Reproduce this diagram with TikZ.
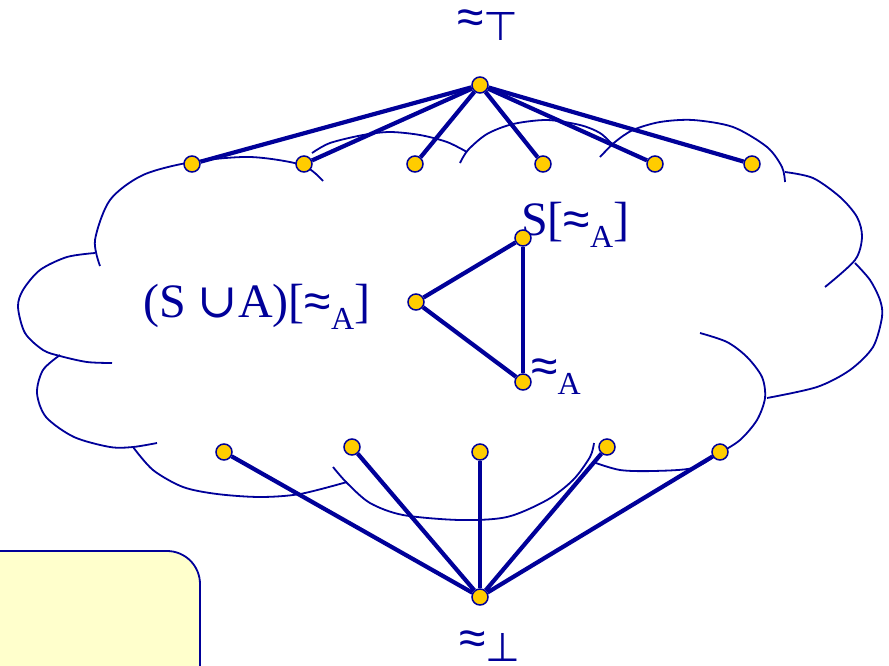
\documentclass[tikz,border=0pt]{standalone}
\usepackage{fontspec}
\setmainfont{Liberation Serif}
\newfontfamily\lblsans{Liberation Sans}
\newfontfamily\symsans{DejaVu Sans}
\newfontfamily\symserif{DejaVu Serif}
\definecolor{latnavy}{RGB}{0,0,153}
\definecolor{latgold}{RGB}{255,204,0}
\definecolor{notepaper}{RGB}{255,255,204}
\newcommand{\subA}{\raisebox{-12pt}{\fontsize{32}{32}\selectfont A}}
\newcommand{\apx}{{\lblsans ≈}}
\newcommand{\bigsym}[1]{\raisebox{-7pt}{\fontsize{40}{40}\selectfont\symsans #1}}

\begin{document}
\begin{tikzpicture}[x=1pt,y=-1pt,
    elem/.style={circle,draw=latnavy,fill=latgold,line width=1.5pt,minimum size=16pt,inner sep=0pt},
    link/.style={draw=latnavy,line width=4.2pt},
    cloudarc/.style={draw=latnavy,line width=1.8pt},
    lbl/.style={text=latnavy,inner sep=0pt,anchor=base west,font=\fontsize{48}{48}\selectfont}]
    \useasboundingbox (0,0) rectangle (889,665);
    \clip (0,0) rectangle (889,665);
    % ---- note box, bottom left ----
    \draw[draw=latnavy,line width=1.8pt,fill=notepaper,rounded corners=33pt]
      (-40,551) rectangle (200,720);
    % ---- cloud: one arc per bump ----
    \draw[cloudarc] plot[smooth] coordinates {(323,181) (302,165) (250,157) (192,162) (143,175) (110,200) (95,240) (100,266)};
    \draw[cloudarc] plot[smooth] coordinates {(95,253) (67,257) (40,270) (23,290) (18,307) (25,333) (43,350) (60,356) (87,362) (112,363)};
    \draw[cloudarc] plot[smooth] coordinates {(60,355) (43,370) (37,393) (46,417) (74,437) (110,447) (133,447) (157,443)};
    \draw[cloudarc] plot[smooth] coordinates {(133,447) (153,470) (183,487) (217,494) (260,497) (300,494) (347,482)};
    \draw[cloudarc] plot[smooth] coordinates {(333,467) (347,483) (370,503) (403,515) (460,520) (507,517) (547,500) (573,480) (590,457) (594,443)};
    \draw[cloudarc] plot[smooth] coordinates {(593,462) (620,470) (653,471) (693,468) (718,454) (740,440) (757,420) (765,398) (762,377) (747,357) (727,342) (700,333)};
    \draw[cloudarc] plot[smooth] coordinates {(855,263) (870,280) (880,300) (882,317) (873,347) (850,370) (817,387) (767,398)};
    \draw[cloudarc] plot[smooth] coordinates {(785,172) (813,178) (840,197) (857,217) (862,237) (855,260) (825,287)};
    \draw[cloudarc] plot[smooth] coordinates {(600,157) (615,142) (633,130) (660,122) (693,120) (733,127) (767,147) (782,167) (785,182)};
    \draw[cloudarc] plot[smooth] coordinates {(460,163) (468,150) (487,134) (513,124) (547,120) (580,125) (600,133) (613,145)};
    \draw[cloudarc] plot[smooth] coordinates {(312,153) (330,143) (363,135) (390,132) (420,135) (447,142) (467,152)};
    % ---- labels ----
    \node[lbl] (toplbl) at (457,33) {\apx\bigsym{⊤}};
    \node[lbl] (botlbl) at (459,654) {\apx\bigsym{⊥}};
    \node[lbl] (salbl) at (521,235) {S[\apx\subA]};
    \node[lbl] (sulbl) at (143,317) {(S {\symserif ∪}A)[\apx\subA]};
    \node[lbl] (ealbl) at (531,382) {\apx\subA};
    % ---- elements ----
    \node[elem] (eqtop) at (480,85) {};
    \node[elem] (eqbot) at (480,597) {};
    \foreach \i/\x in {1/192,2/304,3/415,4/543,5/655,6/752}
      \node[elem] (u\i) at (\x,164) {};
    \foreach \i/\x/\y in {1/224/452,2/352/447,3/480/452,4/607/447,5/720/452}
      \node[elem] (l\i) at (\x,\y) {};
    \node[elem] (sa) at (523,238) {};
    \node[elem] (su) at (416,302) {};
    \node[elem] (ea) at (523,382) {};
    % ---- order links ----
    \foreach \i in {1,...,6}
      \draw[link] (eqtop) -- (u\i);
    \foreach \i in {1,...,5}
      \draw[link] (eqbot) -- (l\i);
    \draw[link] (su) -- (sa);
    \draw[link] (su) -- (ea);
    \draw[link] (sa) -- (ea);
\end{tikzpicture}
\end{document}
